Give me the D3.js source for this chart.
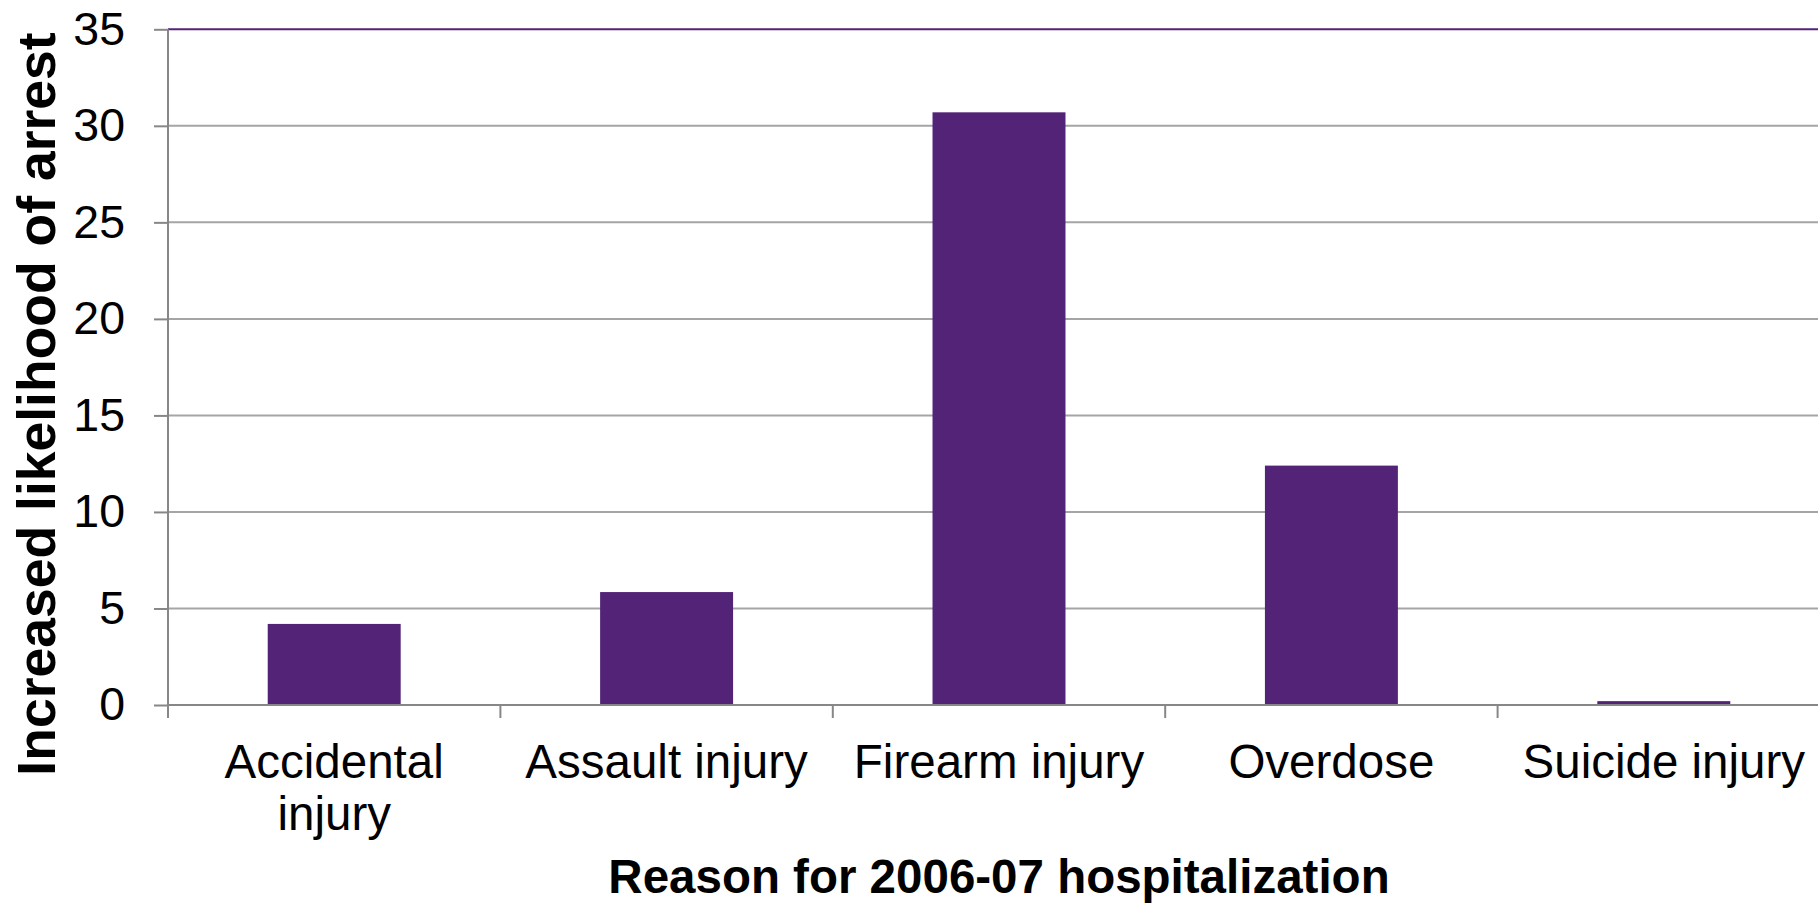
<!DOCTYPE html>
<html>
<head>
<meta charset="utf-8">
<script src="https://cdn.jsdelivr.net/npm/d3@7"></script>
<style>
  html, body { margin: 0; padding: 0; background: #fff; overflow: hidden; }
  svg { display: block; font-family: "Liberation Sans", Arial, sans-serif; }
</style>
</head>
<body>
<svg id="chart" width="1818" height="904"></svg>
<script>
const categories = ["Accidental injury", "Assault injury", "Firearm injury", "Overdose", "Suicide injury"];
const categoryLines = [["Accidental", "injury"], ["Assault injury"], ["Firearm injury"], ["Overdose"], ["Suicide injury"]];
const values = [4.2, 5.85, 30.7, 12.4, 0.2];
const yTicks = [0, 5, 10, 15, 20, 25, 30, 35];
const yTitle = "Increased likelihood of arrest";
const xTitle = "Reason for 2006-07 hospitalization";

(function () {
const svg = d3.select("#chart");
const plotLeft = 168, plotRight = 1830, plotTop = 29.3, plotBottom = 705;

const y = d3.scaleLinear().domain([0, 35]).range([plotBottom, plotTop]);
const xBar = d3.scaleBand().domain(categories).range([plotLeft, plotRight]).paddingInner(0.6).paddingOuter(0.3);
const xCat = d3.scaleBand().domain(categories).range([plotLeft, plotRight]).padding(0);

const purple = "#532377";
const gridColor = "#a5a5a5";
const axisColor = "#878787";

// gridlines
svg.append("g").selectAll("line").data(yTicks.filter(t => t > 0)).join("line")
  .attr("x1", plotLeft).attr("x2", plotRight)
  .attr("y1", d => y(d)).attr("y2", d => y(d))
  .attr("stroke", d => d === 35 ? purple : gridColor)
  .attr("stroke-width", 2);

// bars
svg.append("g").selectAll("rect").data(categories).join("rect")
  .attr("x", d => xBar(d))
  .attr("width", xBar.bandwidth())
  .attr("y", (d, i) => y(values[i]))
  .attr("height", (d, i) => y(0) - y(values[i]))
  .attr("fill", purple);

// y axis
const yAxis = d3.axisLeft(y).tickValues(yTicks).tickSize(14).tickPadding(29).tickFormat(d3.format("d"));
const gy = svg.append("g").attr("transform", `translate(${plotLeft},0)`).call(yAxis);
gy.select(".domain").attr("stroke", axisColor).attr("stroke-width", 2).attr("d", `M0,${plotTop}V${plotBottom}`);
gy.selectAll(".tick line").attr("stroke", axisColor).attr("stroke-width", 2);
gy.selectAll(".tick text").attr("font-size", 46.5).attr("fill", "#000")
  .attr("font-family", "'Liberation Sans', Arial, sans-serif");

// x axis baseline and boundary ticks
const gx = svg.append("g");
gx.append("line").attr("x1", plotLeft).attr("x2", plotRight).attr("y1", plotBottom).attr("y2", plotBottom)
  .attr("stroke", axisColor).attr("stroke-width", 2);
const boundaries = categories.map(c => xCat(c)).concat([plotRight]);
gx.selectAll("line.tk").data(boundaries).join("line").attr("class", "tk")
  .attr("x1", d => d).attr("x2", d => d).attr("y1", plotBottom).attr("y2", plotBottom + 13)
  .attr("stroke", axisColor).attr("stroke-width", 2);

// category labels
const labels = svg.append("g").selectAll("text").data(categories).join("text")
  .attr("x", d => xCat(d) + xCat.bandwidth() / 2)
  .attr("y", 778)
  .attr("text-anchor", "middle")
  .attr("font-size", 47.5)
  .attr("fill", "#000");
labels.each(function(d, i) {
  const t = d3.select(this);
  categoryLines[i].forEach((line, j) => {
    t.append("tspan").attr("x", xCat(d) + xCat.bandwidth() / 2).attr("dy", j === 0 ? 0 : 52).text(line);
  });
});

// axis titles
svg.append("text")
  .attr("transform", `translate(55,404) rotate(-90)`)
  .attr("text-anchor", "middle")
  .attr("font-size", 53.5)
  .attr("font-weight", "bold")
  .attr("fill", "#000")
  .text(yTitle);

svg.append("text")
  .attr("x", (plotLeft + plotRight) / 2)
  .attr("y", 893)
  .attr("text-anchor", "middle")
  .attr("font-size", 47.5)
  .attr("font-weight", "bold")
  .attr("fill", "#000")
  .text(xTitle);
})();
</script>
</body>
</html>
